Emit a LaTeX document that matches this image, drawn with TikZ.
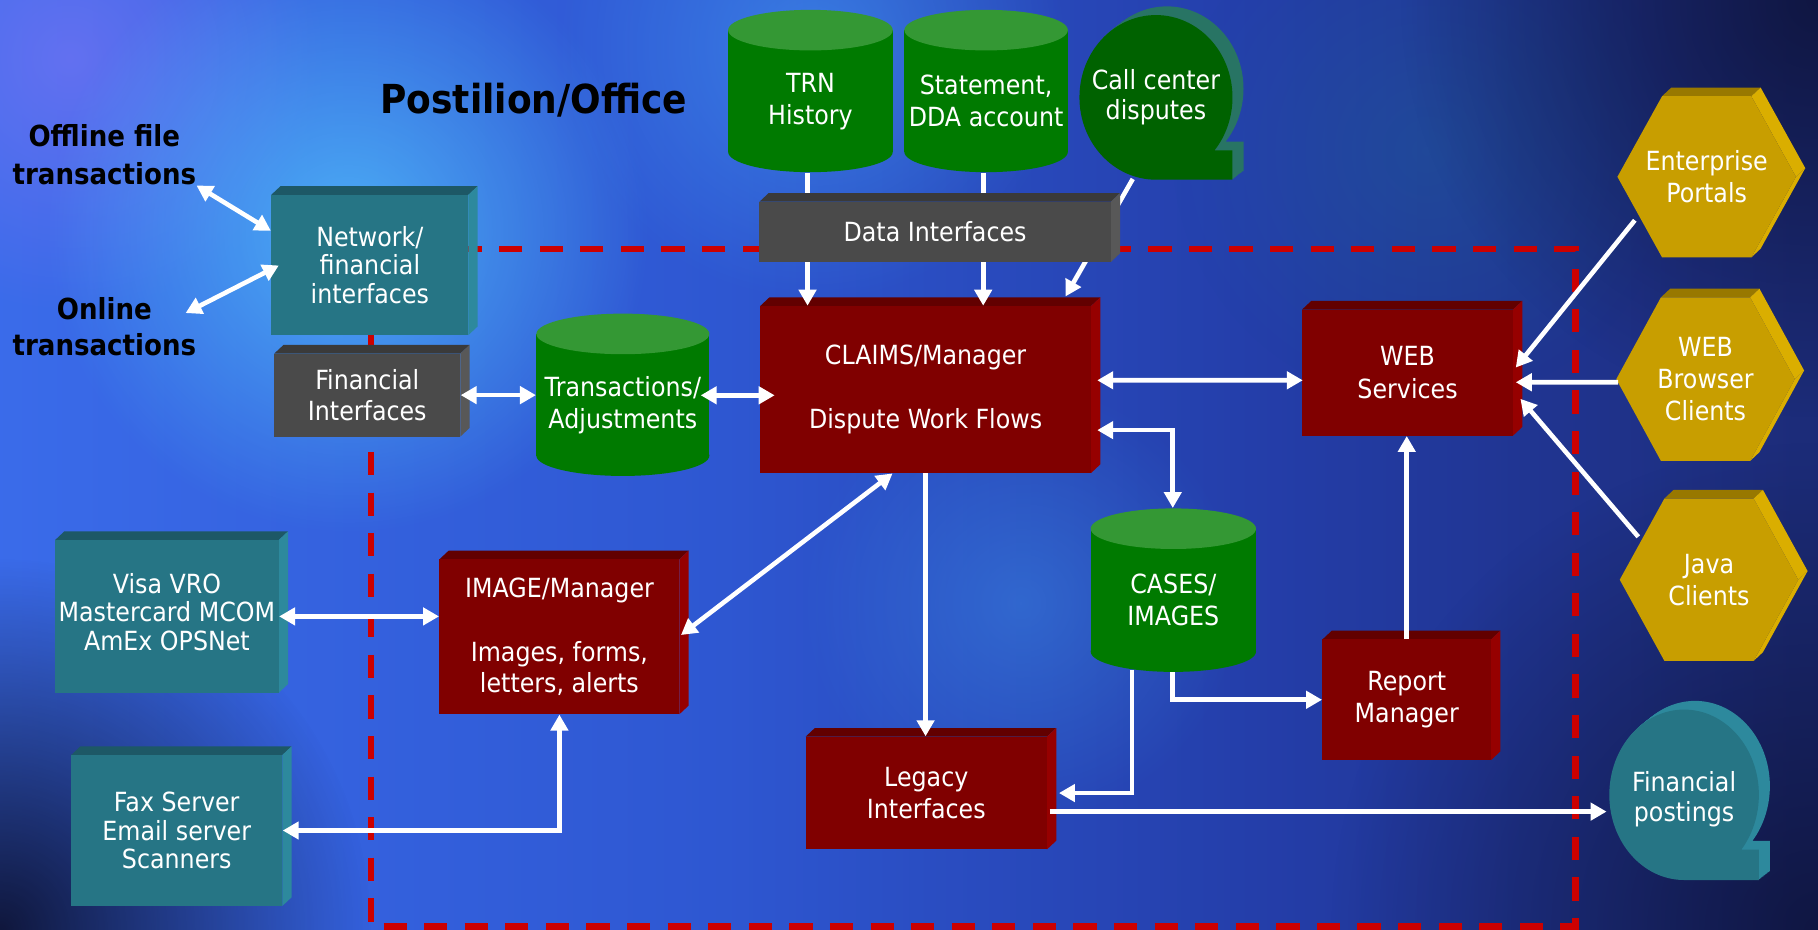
\documentclass[tikz,border=0pt]{standalone}
\usepackage{fontspec}
\setmainfont[FakeStretch=0.9]{DejaVu Sans}
\usetikzlibrary{arrows.meta,fit,fadings,calc}
\pgfdeclarelayer{back}
\pgfdeclarelayer{behind}
\pgfsetlayers{back,behind,main}
\tikzfading[name=glow, inner color=transparent!0, outer color=transparent!100]
\pgfdeclarehorizontalshading{bgsh}{100bp}{rgb(0bp)=(0.30,0.33,0.88); rgb(20bp)=(0.24,0.44,0.94); rgb(45bp)=(0.18,0.34,0.82); rgb(60bp)=(0.14,0.24,0.66); rgb(75bp)=(0.11,0.17,0.47); rgb(90bp)=(0.08,0.11,0.31); rgb(100bp)=(0.06,0.07,0.20)}
\definecolor{tealF}{RGB}{38,117,133}
\definecolor{tealT}{RGB}{29,88,102}
\definecolor{tealS}{RGB}{45,137,157}
\definecolor{grayF}{RGB}{74,74,74}
\definecolor{grayT}{RGB}{58,58,58}
\definecolor{grayS}{RGB}{88,88,88}
\definecolor{redF}{RGB}{128,0,0}
\definecolor{redT}{RGB}{98,0,0}
\definecolor{redS}{RGB}{150,0,0}
\definecolor{grnB}{RGB}{0,122,0}
\definecolor{grnT}{RGB}{52,152,52}
\definecolor{goldF}{RGB}{200,158,0}
\definecolor{goldT}{RGB}{152,120,0}
\definecolor{goldS}{RGB}{218,174,0}
\definecolor{ccF}{RGB}{0,98,0}
\definecolor{ccS}{RGB}{40,116,100}
\definecolor{fpF}{RGB}{38,117,133}
\definecolor{fpS}{RGB}{45,137,157}
\definecolor{dashred}{RGB}{204,0,0}
\definecolor{gcyan}{RGB}{85,205,255}
\definecolor{gblue}{RGB}{70,165,250}
\definecolor{gpurple}{RGB}{140,120,250}
\definecolor{gdark}{RGB}{8,8,30}
\definecolor{gmid}{RGB}{60,140,230}
\definecolor{gteal}{RGB}{30,110,150}
\tikzset{
 toff/.store in=\toff, toff=0,
 boxtext/.style={text=white, align=center, font=\fontsize{13.2}{16}\selectfont},
 tight/.style={font=\fontsize{13.2}{14.3}\selectfont},
 lbl/.style={text=black, align=center, font=\fontsize{14.5}{19}\selectfont\bfseries, inner sep=0pt},
 conn/.style={white, line width=2.3pt},
 arr/.style={conn, -{Triangle[length=8pt,width=8.6pt]}},
 dbl/.style={conn, {Triangle[length=8pt,width=8.6pt]}-{Triangle[length=8pt,width=8.6pt]}},
 dashbox/.style={draw=dashred, line width=3.4pt, dash pattern=on 11.6pt off 8.7pt},
 glowspot/.style={path fading=glow}
}
% 3D box: [opts]{name}{x1}{y1}{x2}{y2}{colour prefix}{text}
\newcommand{\cubebox}[8][]{%
 \begin{scope}[boxtext,#1]
 \fill[#7T] (#3,#4) -- ({#3+8},{#4-7.5}) -- ({#5+8},{#4-7.5}) -- (#5,#4) -- cycle;
 \fill[#7S] (#5,#4) -- ({#5+8},{#4-7.5}) -- ({#5+8},{#6-7.5}) -- (#5,#6) -- cycle;
 \node[inner sep=0pt, fit={(#3,#4) (#5,#6)}, fill=#7F] (#2) {};
 \node[inner sep=0pt] (#2-t) at ($(#2.center)+(0,\toff)$) {#8};
 \end{scope}
}
% cylinder: [opts]{name}{cx}{rx}{ytop}{ybot}{text}
\newcommand{\cylshape}[7][]{%
 \begin{scope}[boxtext,#1]
 \fill[grnB] ({#3-#4},#5) rectangle ({#3+#4},#6);
 \fill[grnB] (#3,#6) ellipse [x radius=#4, y radius=17.5];
 \fill[grnT] (#3,#5) ellipse [x radius=#4, y radius=17.5];
 \node[inner sep=0pt, fit={({#3-#4},#5) ({#3+#4},{#6+17.5})}] (#2) {};
 \node[inner sep=0pt] (#2-t) at ($(#2.center)+(0,\toff)$) {#7};
 \end{scope}
}
% hexagon: [opts]{name}{cx}{cy}{w}{h}{text}
\newcommand{\hexshape}[7][]{%
 \begin{scope}[boxtext,#1]
 \coordinate (hL) at ({#3-#5},#4);
 \coordinate (hTL) at ({#3-#5/2},{#4-#6});
 \coordinate (hTR) at ({#3+#5/2},{#4-#6});
 \coordinate (hR) at ({#3+#5},#4);
 \coordinate (hBR) at ({#3+#5/2},{#4+#6});
 \coordinate (hBL) at ({#3-#5/2},{#4+#6});
 \fill[goldT] (hTL) -- ($(hTL)+(8,-7.5)$) -- ($(hTR)+(8,-7.5)$) -- (hTR) -- cycle;
 \fill[goldS] (hTR) -- ($(hTR)+(8,-7.5)$) -- ($(hR)+(8,-7.5)$) -- (hR) -- cycle;
 \fill[goldS] (hR) -- ($(hR)+(8,-7.5)$) -- ($(hBR)+(8,-7.5)$) -- (hBR) -- cycle;
 \fill[goldF] (hL) -- (hTL) -- (hTR) -- (hR) -- (hBR) -- (hBL) -- cycle;
 \node[inner sep=0pt, fit={(hL) (hR) (hTL) (hBR)}] (#2) {};
 \node[inner sep=0pt] (#2-t) at ($(#2.center)+(0,\toff)$) {#7};
 \end{scope}
}
% tape (sequential storage) shape: [opts]{name}{cx}{cy}{rx}{ry}{colour prefix}{text}
\newcommand{\tapeshape}[8][]{%
 \begin{scope}[boxtext,#1]
 \foreach \tx in {0.1,0.2,...,1.0}{%
  \fill[#7S, shift={({9.5*\tx},{-7.5*\tx})}] (#3,{#4+#6}) arc[start angle=90,end angle=400,x radius=#5,y radius=#6] -- ({#3+#5},{#4+#6*sin(40)}) -- ({#3+#5},{#4+#6}) -- cycle;}
 \fill[#7F] (#3,{#4+#6}) arc[start angle=90,end angle=400,x radius=#5,y radius=#6] -- ({#3+#5},{#4+#6*sin(40)}) -- ({#3+#5},{#4+#6}) -- cycle;
 \node[inner sep=0pt, fit={({#3-#5},{#4-#6}) ({#3+#5},{#4+#6})}] (#2) {};
 \node[inner sep=0pt] (#2-t) at ($(#2.center)+(0,\toff)$) {#8};
 \end{scope}
}
\begin{document}
\begin{tikzpicture}[x=0.58pt,y=-0.58pt]
\useasboundingbox (0,0) rectangle (1568,802);

% ---------- shapes ----------
\node[lbl, font=\fontsize{20}{24}\selectfont\bfseries] (title) at (460.4,86.3) {Postilion/Office};
\node[lbl] (offline) at (90,133.6) {Offline file\\transactions};
\node[lbl, font=\fontsize{14.5}{18}\selectfont\bfseries] (online) at (90,282) {Online\\transactions};

\cubebox[tight]{net}{234}{168}{404}{289}{teal}{Network/\\financial\\interfaces}
\cubebox[font=\fontsize{13.2}{15.5}\selectfont]{fin}{236.5}{305}{397}{376.6}{gray}{Financial\\Interfaces}
\cylshape{trans}{537.2}{74.6}{288}{393}{Transactions/\\Adjustments}
\cylshape{trn}{699}{71}{26}{131}{TRN\\History}
\cylshape{stmt}{850.5}{70.5}{26}{131}{Statement,\\DDA account}
\tapeshape[font=\fontsize{13.2}{15}\selectfont]{call}{997}{84}{66}{71}{cc}{Call center\\disputes}
\cubebox{data}{655}{174}{958}{226}{gray}{Data Interfaces}
\cubebox{claims}{655.6}{264}{941}{408}{red}{CLAIMS/Manager\\[16pt]Dispute Work Flows}
\cubebox[font=\fontsize{13.2}{16.5}\selectfont]{web}{1123}{267}{1305}{375.7}{red}{WEB\\Services}
\hexshape{ent}{1472}{152.5}{77}{69.5}{Enterprise\\Portals}
\hexshape{wbc}{1471}{327}{77}{70.5}{WEB\\Browser\\Clients}
\hexshape{java}{1474}{500}{77}{70}{Java\\Clients}
\cubebox[tight, toff=-4]{visa}{47.5}{465.8}{240.4}{597.5}{teal}{Visa VRO\\Mastercard MCOM\\AmEx OPSNet}
\cubebox[font=\fontsize{13.2}{15.5}\selectfont]{image}{379}{482.4}{586}{616}{red}{IMAGE/Manager\\[16.5pt]Images, forms,\\letters, alerts}
\cubebox[tight]{fax}{61.4}{651.2}{243.5}{781.4}{teal}{Fax Server\\Email server\\Scanners}
\cylshape{cases}{1012}{71.3}{456}{562}{CASES/\\IMAGES}
\cubebox{report}{1140.6}{551.5}{1286}{655.6}{red}{Report\\Manager}
\cubebox{legacy}{694.8}{635.4}{903}{732.6}{red}{Legacy\\Interfaces}
\tapeshape[font=\fontsize{13.2}{15}\selectfont, toff=4]{finpost}{1452.5}{685.5}{64.5}{73.5}{fp}{Financial\\postings}

% ---------- connectors on top ----------
\coordinate (trnb) at ($(trn.south)+(-2.5,0)$);
\coordinate (stmtb) at ($(stmt.south)+(-2.5,0)$);
\coordinate (td) at ($(trans.east)+(-7.8,-8.3)$);
\draw[dbl] (offline.south east) -- (net.161);
\draw[dbl] ($(online.east)+(-9.4,-12)$) -- ($(net.west)+(6.8,0.5)$);
\draw[dbl] (fin.east) -- (fin.east -| trans.west);
\draw[dbl] (td) -- ($(td -| claims.west)+(12.9,0)$);
\draw[arr] (trnb |- data.south) -- (trnb |- claims.north);
\draw[arr] (stmtb |- data.south) -- (stmtb |- claims.north);
\draw[dbl] ($(claims.east)+(5,-8)$) -- ($(web.west)+(1,6.65)$);
\draw[dbl] ($(claims.east)+(5,35)$) -| ($(cases.north)+(-0.5,-17.5)$);
\draw[arr] (claims.south) -- (claims.south |- legacy.north);
\draw[dbl] ($(claims.south)+(-28.5,0)$) -- ($(image.east)+(1,-1.5)$);
\draw[dbl] (visa.east) -- (visa.east -| image.west);
\draw[dbl] (fax.east) -| (image.south);
\draw[arr] ($(cases.south)+(-0.5,0)$) |- (report.west);
\draw[arr] ($(cases.south)+(-35.5,-2)$) |- ($(legacy.east)+(10,0)$);
\draw[arr] (report.north) -- (report.north |- web.south);
\draw[arr] ($(legacy.east)+(2,16)$) -- ($(finpost.west)+(-2,14.5)$);
\draw[arr] ($(ent.center)+(-62,37.5)$) -- ($(web.east)+(2,-4.35)$);
\draw[arr] ($(wbc.west)+(2,2.7)$) -- ($(web.east)+(2,8.35)$);
\draw[arr] ($(java.center)+(-61,-37)$) -- ($(web.east)+(6,22.65)$);

% ---------- things passing behind the shapes ----------
\begin{pgfonlayer}{behind}
 \draw[dashbox] (320,214.8) rectangle (1358.5,799);
 \draw[conn] (trnb) -- (trnb |- data.north);
 \draw[conn] (stmtb) -- (stmtb |- data.north);
 \draw[arr] ($(call.south)+(-20,-1)$) -- ($(claims.north)+(120.7,-8)$);
\end{pgfonlayer}

% ---------- background ----------
\begin{pgfonlayer}{back}
 \begin{scope}
 \clip (0,0) rectangle (1568,802);
 \shade[shading=bgsh] (0,0) rectangle (1568,802);
 \fill[gpurple, opacity=0.5, glowspot] (60,50) circle (220);
 \fill[gcyan, opacity=0.7, glowspot] (300,200) circle (260);
 \fill[gblue, opacity=0.5, glowspot] (700,40) circle (220);
 \fill[gmid, opacity=0.45, glowspot] (880,520) circle (190);
 \fill[gteal, opacity=0.3, glowspot] (1230,130) circle (220);
 \fill[gdark, opacity=0.85, glowspot] (0,802) circle (320);
 \fill[gdark, opacity=0.6, glowspot] (1568,802) circle (420);
 \fill[gdark, opacity=0.6, glowspot] (1568,0) circle (360);
 \end{scope}
\end{pgfonlayer}
\end{tikzpicture}
\end{document}
